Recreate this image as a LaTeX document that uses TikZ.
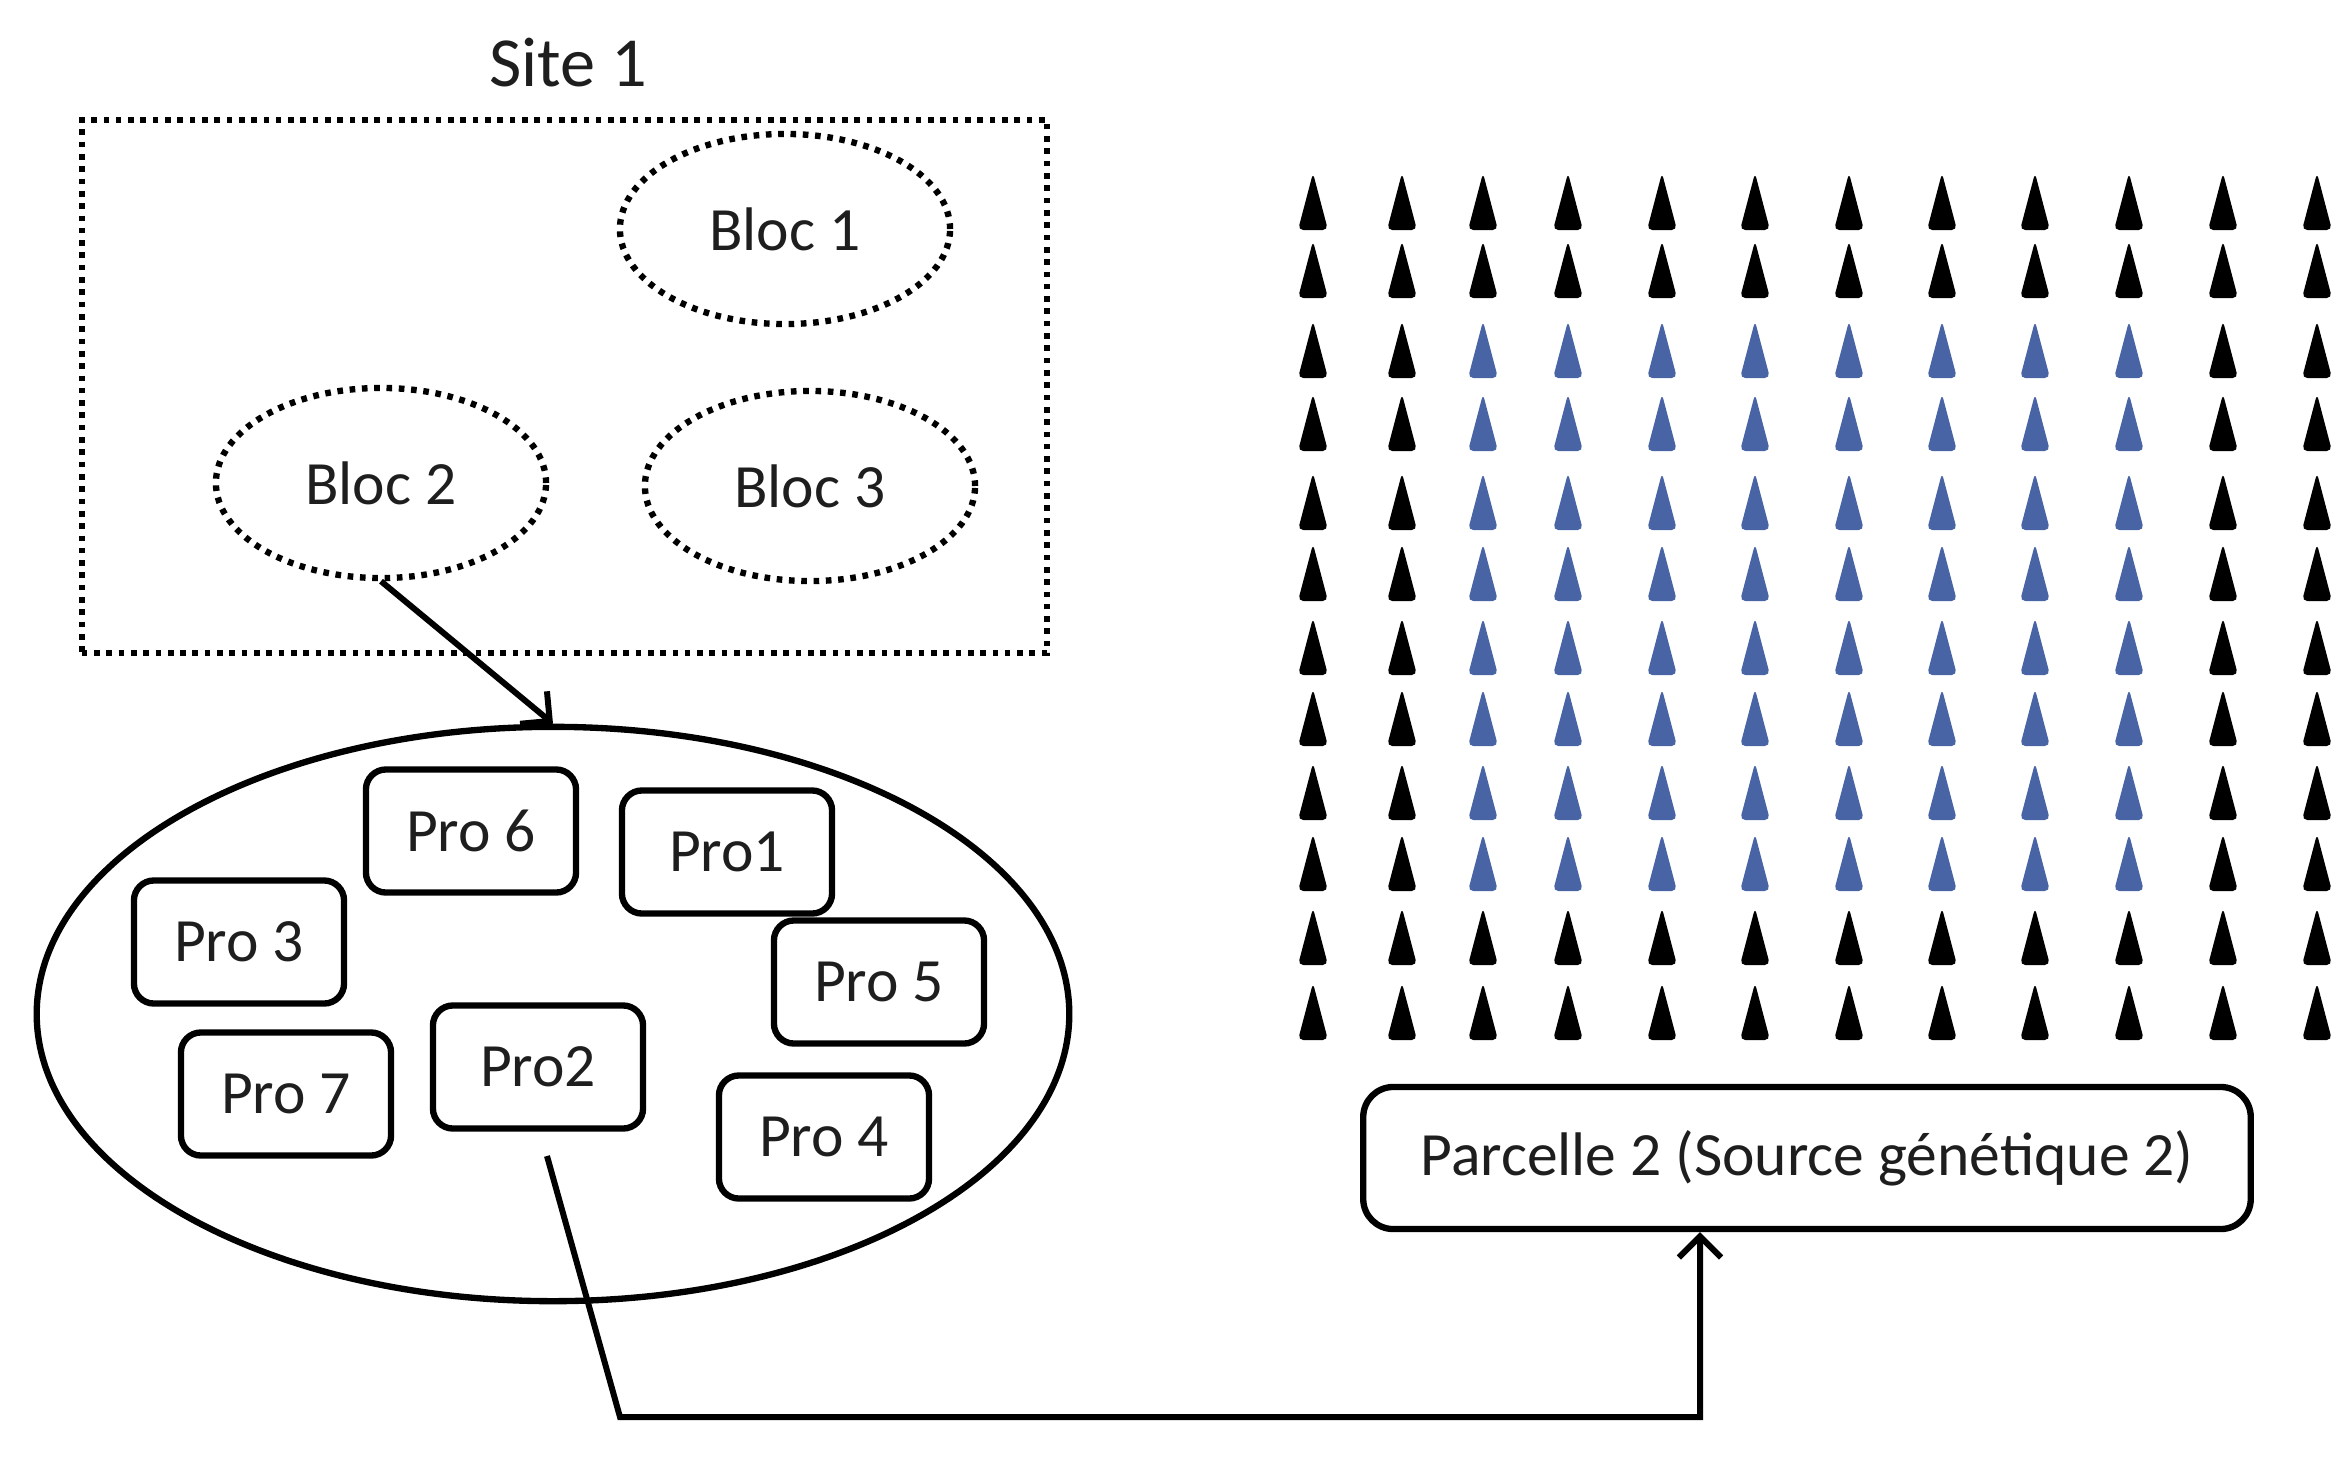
\documentclass[tikz,border=0pt]{standalone}
\usepackage{fontspec}
\setmainfont{Carlito}
\usetikzlibrary{arrows.meta,shapes.geometric,calc}
\definecolor{treeblue}{RGB}{72,100,165}
\definecolor{ink}{RGB}{30,30,30}
\begin{document}
\begin{tikzpicture}[x=0.01cm,y=-0.01cm,
  lbl/.style={font=\fontsize{17.5}{21}\selectfont, text=ink},
  dotline/.style={line width=1.8pt, dash pattern=on 1.6pt off 1.9pt},
  bloc/.style={ellipse, draw, dotline, minimum width=3.3cm, minimum height=1.9cm, inner sep=0pt, lbl},
  probox/.style={draw, line width=1.8pt, rounded corners=0.2cm, minimum width=2.1cm, minimum height=1.23cm, inner sep=0pt, lbl},
  arr/.style={line width=1.7pt, -{Straight Barb[length=6pt,width=12pt]}}
]
\useasboundingbox (0,0) rectangle (2344,1475);

% Site 1
\node[font=\fontsize{20}{24}\selectfont, text=ink] (site) at (568,63) {Site 1};
\node[draw, dotline, minimum width=9.65cm, minimum height=5.33cm, inner sep=0pt] (siterect) at (564.5,386.5) {};
\node[bloc] (b1) at (785,229) {Bloc 1};
\node[bloc] (b2) at (381,483) {Bloc 2};
\node[bloc] (b3) at (810,486) {Bloc 3};

% Bloc 2 detail
\node[ellipse, draw, line width=1.8pt, minimum width=10.32cm, minimum height=5.74cm, inner sep=0pt] (big) at (553,1014) {};
\draw[arr] (b2.south) -- (big.north);

\node[probox] (p6) at (471,831) {Pro 6};
\node[probox] (p1) at (727,852) {Pro1};
\node[probox] (p3) at (239,942) {Pro 3};
\node[probox] (p5) at (879,982) {Pro 5};
\node[probox] (p7) at (286,1094) {Pro 7};
\node[probox] (p2) at (538,1067) {Pro2};
\node[probox] (p4) at (824,1137) {Pro 4};

% Parcelle
\node[draw, line width=1.8pt, rounded corners=0.3cm, minimum width=8.87cm, minimum height=1.42cm, inner sep=0pt, lbl] (parc) at (1807,1158) {Parcelle 2 (Source génétique 2)};

\coordinate (c0) at (547,1156);
\coordinate (c1) at (620,1417);
\coordinate (c2) at (1700,1417);
\draw[arr] (c0) -- (c1) -- (c2) -- (c2 |- parc.south);

% Trees
\foreach \c [count=\i from 0] in {1313,1402,1483,1568,1662,1755,1849,1942,2035,2129,2223,2317} {
  \foreach \r [count=\j from 0] in {202,270,350,423,502,573,647,718,792,863,937,1012} {
    \pgfmathtruncatemacro\isblue{and(and(\i>1,\i<10),and(\j>1,\j<10))}
    \ifnum\isblue=1 \def\tc{treeblue}\else\def\tc{black}\fi
    \fill[\tc, rounded corners=1.5pt] (\c-15,\r+28) -- (\c,\r-29) -- (\c+15,\r+28) -- cycle;
  }
}
\end{tikzpicture}
\end{document}
